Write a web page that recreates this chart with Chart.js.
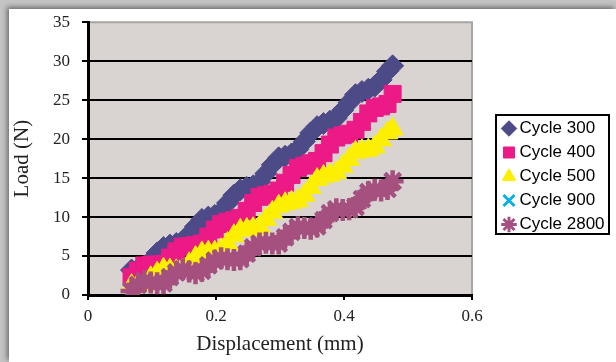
<!DOCTYPE html>
<html>
<head>
<meta charset="utf-8">
<script src="https://cdn.jsdelivr.net/npm/chart.js@4.4.1/dist/chart.umd.min.js"></script>
<style>
  html, body { margin: 0; padding: 0; }
  body { width: 616px; height: 362px; background: #c4c4c4; position: relative; overflow: hidden; }
  .card { position: absolute; left: 9px; top: 9px; right: 0; bottom: 0; background: #fff; box-shadow: -2px -2px 5px rgba(0,0,0,0.45); }
  #chart { position: absolute; left: 0; top: 0; }
</style>
</head>
<body>
<div class="card"></div>
<canvas id="chart" width="616" height="362"></canvas>
<script>
// displacement (mm), shared by all cycles
const xs = [0.068, 0.078, 0.088, 0.098, 0.108, 0.118, 0.128, 0.138, 0.148, 0.158,
            0.168, 0.178, 0.188, 0.198, 0.208, 0.218, 0.228, 0.238, 0.248, 0.258,
            0.268, 0.278, 0.288, 0.298, 0.308, 0.318, 0.328, 0.338, 0.348, 0.358,
            0.368, 0.378, 0.388, 0.398, 0.408, 0.418, 0.428, 0.438, 0.448, 0.458,
            0.468, 0.476];

// load (N) per cycle
const load300 = [3.2, 3.3, 3.6, 4.4, 5.4, 6.1, 6.4, 6.6, 6.9, 7.8,
                 8.8, 9.7, 10.0, 10.2, 10.7, 11.8, 12.8, 13.5, 13.8, 14.0,
                 14.5, 15.6, 16.7, 17.6, 17.8, 18.1, 18.7, 19.7, 20.8, 21.6,
                 22.0, 22.3, 22.7, 23.7, 24.7, 25.7, 26.1, 26.4, 26.8, 27.6,
                 28.7, 29.4];
const load400 = [2.3, 3.1, 3.8, 3.9, 3.9, 4.0, 4.8, 5.6, 6.2, 6.3,
                 6.4, 6.6, 7.5, 8.4, 9.1, 9.4, 9.6, 9.9, 10.8, 11.8,
                 12.6, 12.8, 13.0, 13.4, 14.4, 15.4, 16.3, 16.6, 16.9, 17.2,
                 18.2, 19.3, 20.2, 20.5, 20.7, 21.2, 22.2, 23.3, 24.0, 24.2,
                 24.5, 25.8];
const load500 = [1.2, 1.3, 1.4, 2.2, 2.8, 3.3, 3.2, 3.1, 3.2, 4.0,
                 4.8, 5.4, 5.5, 5.5, 5.8, 6.6, 7.6, 8.3, 8.4, 8.5,
                 8.8, 9.7, 10.6, 11.4, 11.7, 11.9, 12.1, 12.8, 13.8, 14.8,
                 15.2, 15.4, 15.7, 16.5, 17.4, 18.3, 18.5, 18.6, 19.0, 19.9,
                 20.8, 21.3];
// cycle 900 sits under the cycle 2800 markers
const load900 = [0.5, 1.3, 1.8, 1.6, 1.5, 1.5, 2.3, 2.9, 3.3, 3.0,
                 2.8, 3.1, 3.8, 4.4, 4.7, 4.6, 4.5, 4.6, 5.3, 6.1,
                 6.6, 6.7, 6.6, 6.6, 7.4, 8.1, 8.7, 8.6, 8.5, 8.8,
                 9.6, 10.5, 11.0, 10.9, 11.0, 11.3, 12.3, 13.2, 13.5, 13.4,
                 13.6, 14.6];
const load2800 = [0.5, 1.3, 1.8, 1.6, 1.5, 1.5, 2.3, 2.9, 3.3, 3.0,
                  2.8, 3.1, 3.8, 4.4, 4.7, 4.6, 4.5, 4.6, 5.3, 6.1,
                  6.6, 6.7, 6.6, 6.6, 7.4, 8.1, 8.7, 8.6, 8.5, 8.8,
                  9.6, 10.5, 11.0, 10.9, 11.0, 11.3, 12.3, 13.2, 13.5, 13.4,
                  13.6, 14.6];

const seriesNames = ['Cycle 300', 'Cycle 400', 'Cycle 500', 'Cycle 900', 'Cycle 2800'];
const xTickLabels = ['0', '0.2', '0.4', '0.6'];
const yTickLabels = ['0', '5', '10', '15', '20', '25', '30', '35'];

const pts = ys => ys.map((y, i) => ({ x: xs[i], y }));

const plotFrame = {
    id: 'plotFrame',
    afterLayout(chart) {
        // legend box sits right of the plot, lower than centre
        const lg = chart.legend;
        lg.left = 500; lg.right = 612; lg.top = 113; lg.bottom = 262;
        lg.width = 112; lg.height = 149;
    },
    beforeDraw(chart) {
        const { ctx, chartArea: a } = chart;
        ctx.save();
        ctx.fillStyle = '#d9d4d2';
        ctx.fillRect(a.left, a.top, a.right - a.left, a.bottom - a.top);
        ctx.strokeStyle = '#a9a5a3';
        ctx.lineWidth = 2;
        ctx.beginPath();
        ctx.moveTo(a.left, a.top);
        ctx.lineTo(a.right, a.top);
        ctx.lineTo(a.right, a.bottom);
        ctx.stroke();
        ctx.restore();
    },
    afterDraw(chart) {
        const { ctx } = chart;
        ctx.save();
        ctx.strokeStyle = '#000';
        ctx.lineWidth = 2;
        ctx.strokeRect(496, 115, 113, 119);
        ctx.restore();
    }
};

new Chart(document.getElementById('chart'), {
    type: 'scatter',
    data: {
        datasets: [
            { label: seriesNames[0], data: pts(load300), order: 5, pointStyle: 'rectRot', pointRadius: 11,
              backgroundColor: '#4d4a88', borderColor: '#4d4a88', borderWidth: 1 },
            { label: seriesNames[1], data: pts(load400), order: 4, pointStyle: 'rect', pointRadius: 12,
              backgroundColor: '#ec1a86', borderColor: '#ec1a86', borderWidth: 1 },
            { label: seriesNames[2], data: pts(load500), order: 3, pointStyle: 'triangle', pointRadius: 12,
              backgroundColor: '#fcf000', borderColor: '#fcf000', borderWidth: 1 },
            { label: seriesNames[3], data: pts(load900), order: 2, pointStyle: 'crossRot', pointRadius: 11,
              backgroundColor: '#0aaee8', borderColor: '#0aaee8', borderWidth: 3 },
            { label: seriesNames[4], data: pts(load2800), order: 1, pointStyle: 'star', pointRadius: 11,
              backgroundColor: '#a5507e', borderColor: '#a5507e', borderWidth: 4.5 }
        ]
    },
    options: {
        responsive: false,
        animation: false,
        events: [],
        layout: { padding: { left: 8, top: 19, right: 144, bottom: 0 } },
        plugins: {
            tooltip: { enabled: false },
            legend: {
                position: 'chartArea',
                align: 'start',
                labels: {
                    usePointStyle: true,
                    boxWidth: 4,
                    boxHeight: 11,
                    padding: 7,
                    color: '#000',
                    font: { family: '"Liberation Sans", Arial, sans-serif', size: 17 },
                    sort: (a, b) => a.datasetIndex - b.datasetIndex,
                    // thinner strokes for the legend symbols
                    generateLabels: chart => Chart.defaults.plugins.legend.labels.generateLabels(chart)
                        .map(l => ({ ...l, lineWidth: Math.min(l.lineWidth, 3) }))
                }
            }
        },
        scales: {
            x: {
                type: 'linear',
                min: 0,
                max: 0.6,
                afterFit: s => { s.height = 67; },
                ticks: {
                    stepSize: 0.2,
                    padding: 6,
                    color: '#222',
                    font: { family: '"Liberation Serif", "Times New Roman", serif', size: 17 },
                    callback: (v, i) => xTickLabels[i]
                },
                grid: { drawOnChartArea: false, drawTicks: true, tickLength: 5, color: '#000', lineWidth: 2 },
                border: { display: true, color: '#000', width: 3 },
                title: {
                    display: true,
                    text: 'Displacement (mm)',
                    color: '#222',
                    font: { family: '"Liberation Serif", "Times New Roman", serif', size: 21 },
                    padding: { top: 0, bottom: 5 }
                }
            },
            y: {
                min: 0,
                max: 35,
                afterFit: s => { s.width = 80; },
                ticks: {
                    stepSize: 5,
                    padding: 12,
                    color: '#222',
                    font: { family: '"Liberation Serif", "Times New Roman", serif', size: 17 },
                    callback: (v, i) => yTickLabels[i]
                },
                grid: {
                    color: c => (c.tick && c.tick.value === 35 ? 'rgba(0,0,0,0)' : '#000'),
                    tickColor: '#000',
                    lineWidth: 2,
                    tickLength: 6
                },
                border: { display: true, color: '#000', width: 3 },
                title: {
                    display: true,
                    text: 'Load (N)',
                    color: '#222',
                    font: { family: '"Liberation Serif", "Times New Roman", serif', size: 21 },
                    padding: { top: 2, bottom: 0 }
                }
            }
        }
    },
    plugins: [plotFrame]
});
</script>
</body>
</html>
